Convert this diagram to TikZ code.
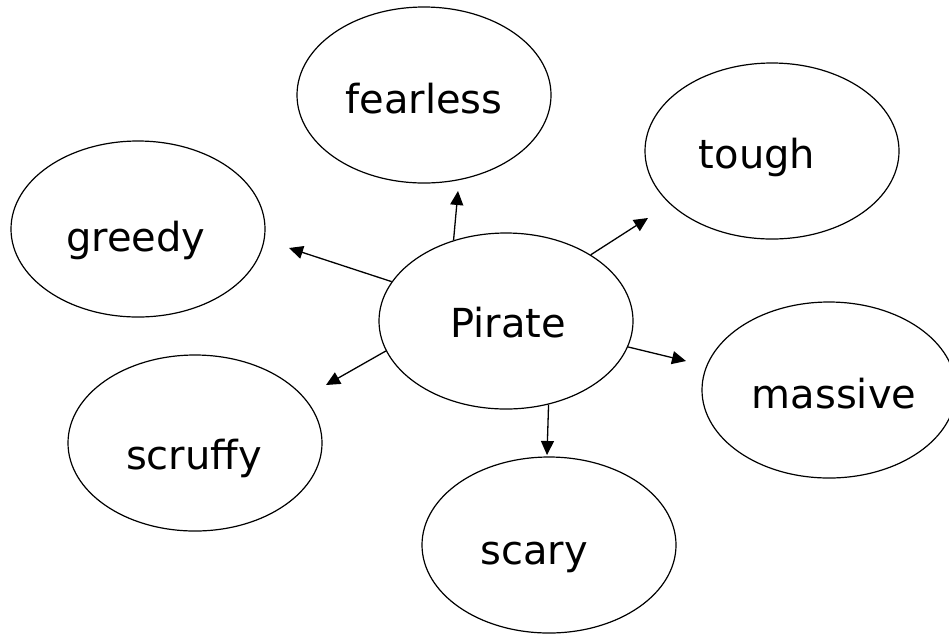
\documentclass[tikz,border=0pt]{standalone}
\usepackage{fontspec}
\setmainfont{DejaVu Sans}
\usetikzlibrary{shapes.geometric,arrows.meta}
\begin{document}
\begin{tikzpicture}[x=1pt,y=-1pt,
  bubble/.style={ellipse,draw=black,line width=1.2pt,minimum width=254pt,minimum height=176pt,inner sep=0pt},
  lbl/.style={font=\fontsize{40}{44}\selectfont,inner sep=0pt},
  conn/.style={line width=1.3pt,-{Triangle[length=14pt,width=13pt]}}]
\useasboundingbox (0,0) rectangle (949,633);
\node[bubble,label={[lbl,yshift=-4pt]center:fearless}] (fe) at (424,95) {};
\node[bubble,label={[lbl,xshift=-15pt,yshift=-6pt]center:tough}] (to) at (772,151) {};
\node[bubble,label={[lbl,xshift=-2pt,yshift=-11pt]center:greedy}] (gr) at (138,229) {};
\node[bubble,label={[lbl,xshift=2pt,yshift=-2pt]center:Pirate}] (P) at (506,321) {};
\node[bubble,label={[lbl,xshift=5pt,yshift=-4pt]center:massive}] (ma) at (829,390) {};
\node[bubble,label={[lbl,xshift=-1pt,yshift=-15pt]center:scruffy}] (sc) at (195,443) {};
\node[bubble,label={[lbl,xshift=-15pt,yshift=-12pt]center:scary}] (sy) at (549,545) {};
\coordinate (tfe) at (458,191);
\coordinate (tto) at (648,218);
\coordinate (tgr) at (289,248);
\coordinate (tsc) at (326,385);
\coordinate (tma) at (686,361);
\coordinate (tsy) at (547,455);
\draw[conn] (P.123) -- (tfe);
\draw[conn] (P.38.8) -- (tto);
\draw[conn] (P.161) -- (tgr);
\draw[conn] (P.194.5) -- (tsc);
\draw[conn] (P.348.6) -- (tma);
\draw[conn] (P.297) -- (tsy);
\end{tikzpicture}
\end{document}
